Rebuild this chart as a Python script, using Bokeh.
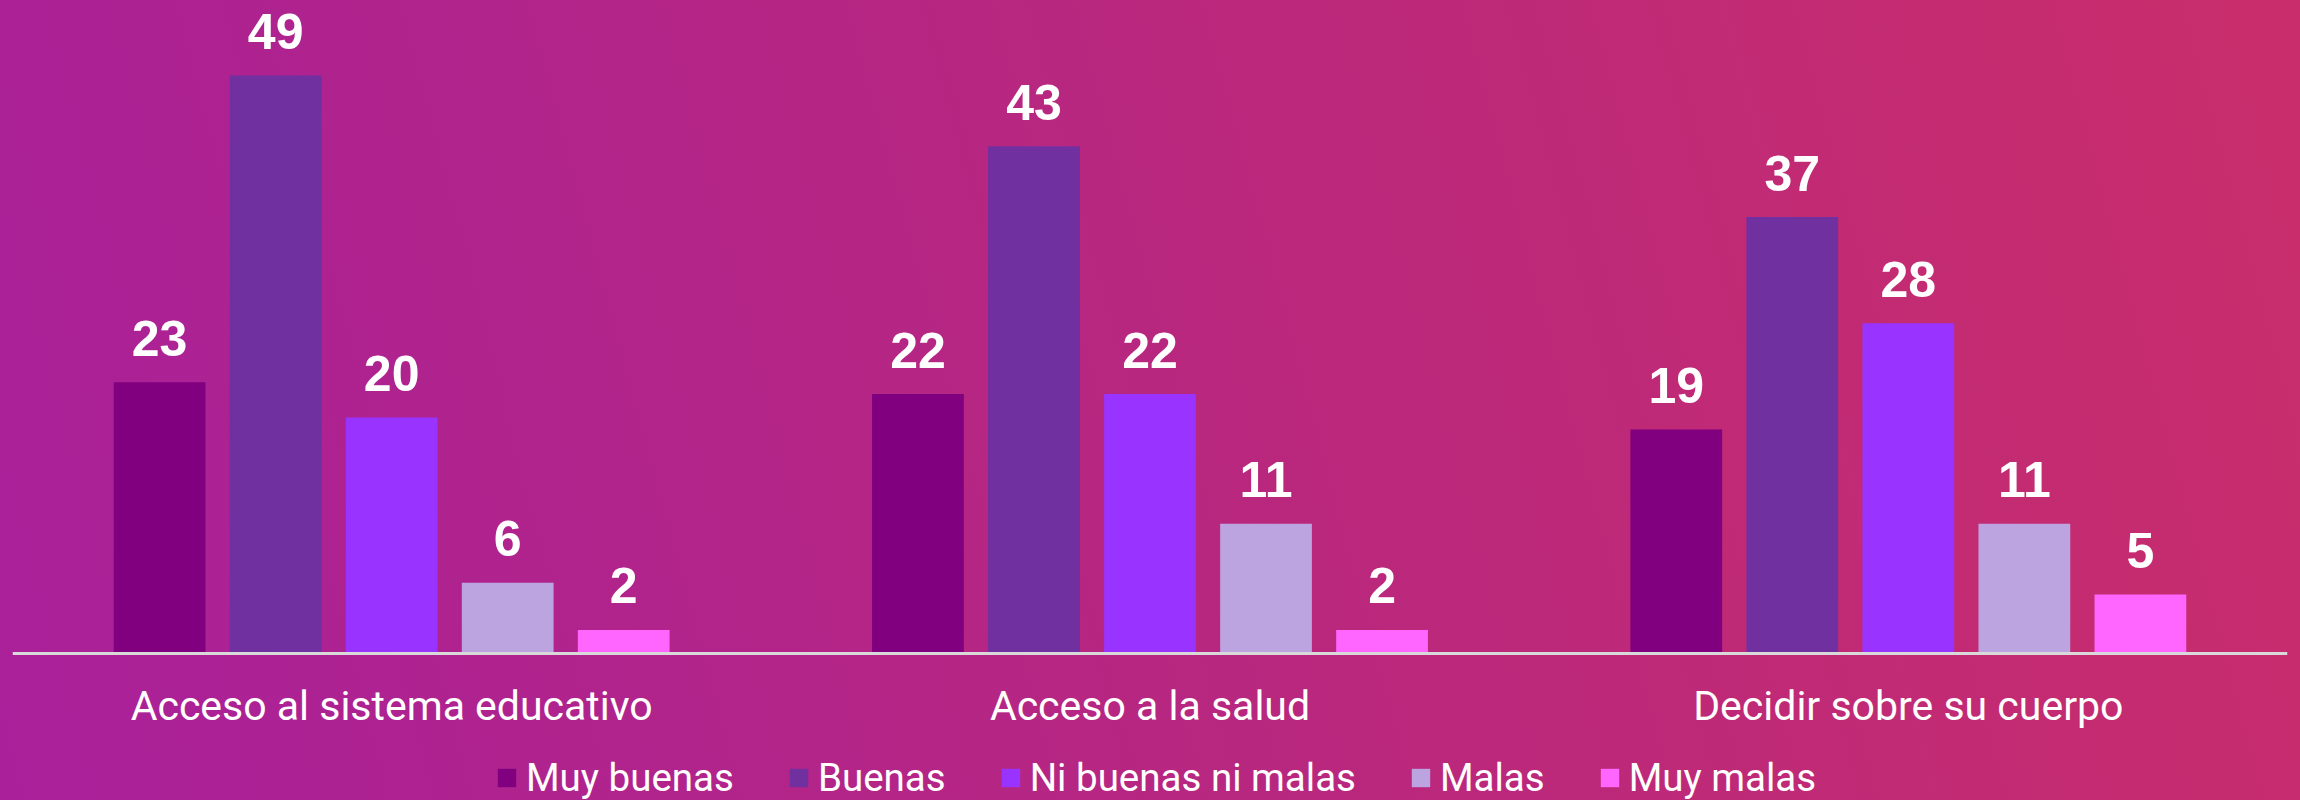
from bokeh.plotting import figure
from bokeh.models import FactorRange, Range1d, Legend, LegendItem, ColumnDataSource
from bokeh.transform import dodge
from bokeh.core.properties import value
from bokeh.embed import file_html
from bokeh.resources import INLINE

categories = ["Acceso al sistema educativo", "Acceso a la salud", "Decidir sobre su cuerpo"]
series_names = ["Muy buenas", "Buenas", "Ni buenas ni malas", "Malas", "Muy malas"]
muy_buenas = [23, 22, 19]
buenas = [49, 43, 37]
ni_buenas_ni_malas = [20, 22, 28]
malas = [6, 11, 11]
muy_malas = [2, 2, 5]
series_values = [muy_buenas, buenas, ni_buenas_ni_malas, malas, muy_malas]
colors = ["#800080", "#7030A0", "#9933FF", "#BCA4E0", "#FF66FF"]
offsets = [-0.306, -0.153, 0.0, 0.153, 0.306]

p = figure(x_range=FactorRange(factors=categories, range_padding=0),
           y_range=Range1d(-12.46, 55.36), width=2300, height=800,
           output_backend="svg", toolbar_location=None, y_axis_location=None,
           min_border_left=12, min_border_right=13, min_border_top=0, min_border_bottom=0)
p.background_fill_alpha = 0
p.border_fill_alpha = 0
p.outline_line_color = None
p.styles = {"background": "linear-gradient(75deg, #A9209A 0%, #B8277F 50%, #C92D6B 100%)"}
p.xgrid.grid_line_color = None
p.ygrid.grid_line_color = None

items = []
for name, vals, col, off in zip(series_names, series_values, colors, offsets):
    src = ColumnDataSource(dict(x=categories, y=vals, label=[str(v) for v in vals]))
    r = p.vbar(x=dodge("x", off, range=p.x_range), top="y", width=0.121, source=src,
               fill_color=col, line_color=None)
    p.text(x=dodge("x", off, range=p.x_range), y="y", text="label", source=src,
           text_align="center", text_baseline="alphabetic", y_offset=-44,
           text_font=value("Liberation Sans"), text_font_style="bold",
           text_font_size="50px", text_color="white")
    items.append(LegendItem(label=name, renderers=[r]))

ax = p.xaxis[0]
ax.fixed_location = 0
ax.axis_line_color = "#D9D9D9"
ax.axis_line_width = 3
ax.major_tick_line_color = None
ax.minor_tick_line_color = None
ax.major_tick_out = 0
ax.major_tick_in = 0
ax.major_label_text_font = "Roboto"
ax.major_label_text_font_size = "41px"
ax.major_label_text_color = "white"
ax.major_label_standoff = 28

legend = Legend(items=items, orientation="horizontal", location=(483, 0),
                glyph_width=23, glyph_height=23, label_standoff=8, spacing=53,
                padding=0, margin=0, border_line_alpha=0, background_fill_alpha=0,
                label_text_font="Roboto", label_text_font_size="38.5px",
                label_text_color="white", label_height=23)
p.add_layout(legend, "center")

open("out.html", "w").write(file_html(p, INLINE))
